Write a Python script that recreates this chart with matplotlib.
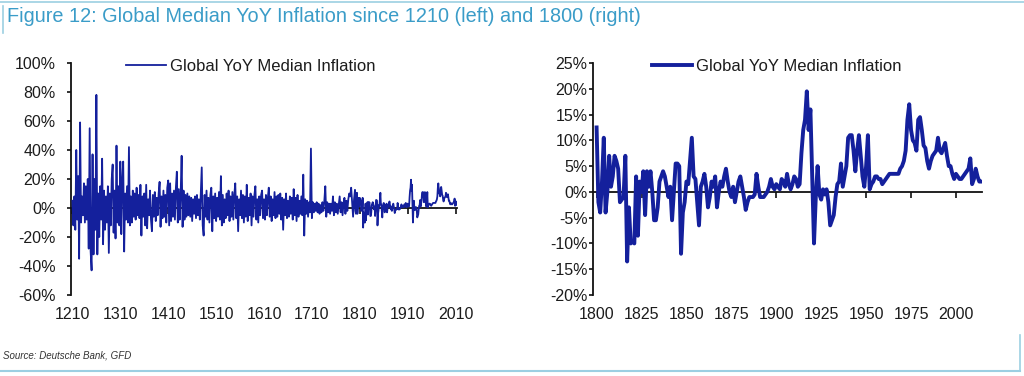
import matplotlib.pyplot as plt
from matplotlib.lines import Line2D

plt.rcParams['font.family'] = ['Liberation Sans', 'DejaVu Sans']

# --- data (YoY median inflation, %) ---
# 1210-1798, every second year
early_years = list(range(1210, 1800, 2))
early_infl = [
    5, -12, 8, -15, 40, -8, 22, -35, 59, -10,
    8, -5, 17, -10, 15, -8, 20, -28, 55, -30,
    -43, 37, -32, 20, -15, 78, -32, 10, -20, 15,
    -8, 34, -25, 12, -15, 8, -10, 15, -31, 10,
    -12, 20, 30, -17, 12, -21, 43, -10, 15, -12,
    32, -18, 20, 32, -30, 10, -8, 15, -10, 42,
    -12, 8, -10, 12, -6, 10, -8, 14, -5, 9,
    -7, 16, -19, 8, -6, 10, -12, 16, -14, 6,
    -5, 12, -8, -16, 9, -6, 11, -9, 7, -5,
    10, 18, -13, 8, -7, 12, -6, 9, -10, 14,
    19, -12, 17, -9, 10, -6, 12, -8, 14, 25,
    -10, 13, -8, 10, 36, -13, 12, -8, 9, -6,
    10, -5, 8, -6, 7, -9, 6, -4, 8, -7,
    9, -5, 6, -8, 10, 28, -12, -19, 9, -6,
    12, -8, 7, -10, 9, 14, -16, 8, -7, 10,
    -9, 7, -6, 11, -8, 22, -12, 9, -10, 6,
    -7, 10, -5, 12, -9, 8, -6, 11, -8, 9,
    17, -7, 8, -16, 6, -5, 12, -7, 9, -10,
    8, -6, 16, -9, 7, -5, 10, -12, 8, -6,
    9, 15, -8, 6, -10, 8, -5, 9, 12, -7,
    6, -8, 9, -5, 7, 14, -6, 8, -9, 6,
    -5, 11, -7, 8, -6, 9, -4, 10, -8, 7,
    -15, 6, -5, 10, -7, 5, -6, 8, -4, 7,
    -8, 13, -5, 7, -9, 9, -6, 5, -4, 8,
    -5, 23, -19, 6, -4, 5, -6, 4, -3, 41,
    -7, 4, -3, 3, -2, 4, -3, 3, -4, 2,
    -3, 4, -2, 5, 15, -6, 4, -3, 3, -4,
    3, -2, 8, -5, 4, -3, 3, -4, 2, 8,
    -3, 4, -5, 3, 7, -4, 5, -2, 6, 10,
    8, 14, 4, -6, 6,
]

# 1800-2014, annual
modern_years = list(range(1800, 2015))
modern_infl = [
    12.5, -2, -4, 2, 10.5, -4, 0, 7, 1, 3,
    7, 6, 4.5, -2, -1.5, -1, 7, -13.5, -3, -10,
    -9.5, -10, 3, -8.5, 2, 0, 4, -4.5, 4, 1,
    4, 0, -5.5, -5.5, -3, 2, 3, 4, 3, 1,
    -1, 1, -5.5, 0, 5.5, 5.5, 5, -12, -4, -2,
    2, 1.5, 6, 10.5, 3, 2.5, -2, -6.5, 1, 2,
    3.5, 1, -3, -1, 2, 1, 3, -3, 0, 2,
    1, 3, 4.5, 2, 0, -1, 1, -2, 0, 2,
    3, 1, -1, -3.5, -2, -1, -1, -1, -0.5, 3.5,
    1, -1, -1, -1, -0.5, 0, 1, 2.5, 1, 0.5,
    1.5, 1, 0.5, 2.5, 2, 1, 3.5, 1.5, 0.5, 1.5,
    3, 2.5, 1, 1.5, 7.5, 12, 14, 19.5, 12, 16,
    3, -10, -1, 5, -0.5, -1.5, 0.5, -0.5, 0.5, -2,
    -6.5, -5.5, -4.5, -1, 1.5, 2, 5.5, 1, 3, 5,
    10.5, 11, 11, 8, 4, 8, 11, 7, 3, 1,
    5, 11, 0.5, 1.5, 2, 3, 3, 2.5, 2.5, 1.5,
    2, 2.5, 3, 3.5, 3.5, 3.5, 3.5, 3.5, 3.5, 4.5,
    5, 6, 8, 14, 17, 12, 10, 9.5, 8, 14,
    14.5, 12, 9, 8.5, 6, 4.5, 6, 7, 7.5, 8,
    10.5, 8, 7.5, 8.5, 9.5, 7, 5, 5, 3.5, 2.5,
    3.5, 3, 2.5, 2.5, 3, 3.5, 4, 4.5, 6.5, 1.5,
    2.5, 4.5, 3, 2, 2,
]

left_xticks = list(range(1210, 2011, 100))
left_yticks = list(range(-60, 101, 20))
right_xticks = list(range(1800, 2001, 25))
right_yticks = list(range(-20, 26, 5))

LABEL = 'Global YoY Median Inflation'
BLUE = '#14209c'
TEAL = '#3a9cc8'
FRAME = '#9ccfe2'
TXT = '#1c1c1c'


def style_axis(ax, xlim, ylim, xticks, yticks, ypad):
    ax.set_xlim(xlim)
    ax.set_ylim(ylim)
    for side in ('top', 'right'):
        ax.spines[side].set_visible(False)
    ax.spines['bottom'].set_position(('data', 0))
    ax.spines['bottom'].set_linewidth(1.3)
    ax.spines['left'].set_linewidth(1.3)
    ax.spines['bottom'].set_color('#111111')
    ax.spines['left'].set_color('#111111')
    ax.set_xticks(xticks)
    ax.set_yticks(yticks)
    ax.yaxis.set_major_formatter(lambda v, p: f'{v:.0f}%')
    ax.tick_params(axis='x', direction='out', length=4, width=1.2,
                   labelbottom=False, color='#111111')
    ax.tick_params(axis='y', direction='out', length=3, width=1.2,
                   pad=ypad, labelsize=11.5, labelcolor=TXT, color='#111111')
    # year labels sit below the plot area, not on the zero line
    sec = ax.secondary_xaxis('bottom')
    sec.set_xticks(xticks)
    sec.spines['bottom'].set_visible(False)
    sec.tick_params(length=0, pad=8.5, labelsize=11.5, labelcolor=TXT)
    ax.set_facecolor('none')


fig = plt.figure(figsize=(10.24, 3.76), dpi=100)

ax1 = fig.add_axes([71 / 1024, 1 - 295 / 376, 386 / 1024, 232 / 376])
ax2 = fig.add_axes([593 / 1024, 1 - 295 / 376, 389 / 1024, 232 / 376])

ax1.plot(early_years + modern_years, early_infl + modern_infl,
         color=BLUE, lw=1.3, zorder=3, label=LABEL)
ax2.plot(modern_years, modern_infl, color=BLUE, lw=2.8, zorder=3,
         solid_joinstyle='round', label=LABEL)

style_axis(ax1, (1207, 2013), (-60, 100), left_xticks, left_yticks, 8)
style_axis(ax2, (1798, 2014.5), (-20, 25), right_xticks, right_yticks, 1)

for ax, x0 in ((ax1, 0.1425), (ax2, 0.152)):
    ax.legend(loc='center left', bbox_to_anchor=(x0, 0.984), frameon=False,
              fontsize=12, handlelength=2.4, handletextpad=0.25,
              borderpad=0, borderaxespad=0, labelcolor=TXT)

fig.text(7 / 1024, 1 - 17 / 376,
         'Figure 12: Global Median YoY Inflation since 1210 (left) and 1800 (right)',
         color=TEAL, fontsize=14.3, va='center', ha='left')
fig.text(3 / 1024, 1 - 355 / 376, 'Source: Deutsche Bank, GFD',
         fontsize=7, style='italic', color='#333333', va='center', ha='left')

# report frame
fig.add_artist(Line2D([0, 1], [1 - 2 / 376] * 2, transform=fig.transFigure,
                      color=FRAME, lw=1.2))
fig.add_artist(Line2D([3 / 1024] * 2, [1 - 6 / 376, 1 - 33 / 376],
                      transform=fig.transFigure, color=FRAME, lw=1.2))
fig.add_artist(Line2D([0, 1020 / 1024], [1 - 371 / 376] * 2,
                      transform=fig.transFigure, color=FRAME, lw=1.5))
fig.add_artist(Line2D([1020 / 1024] * 2, [1 - 335 / 376, 1 - 371 / 376],
                      transform=fig.transFigure, color=FRAME, lw=1.2))

fig.savefig('out.png', dpi=100)
